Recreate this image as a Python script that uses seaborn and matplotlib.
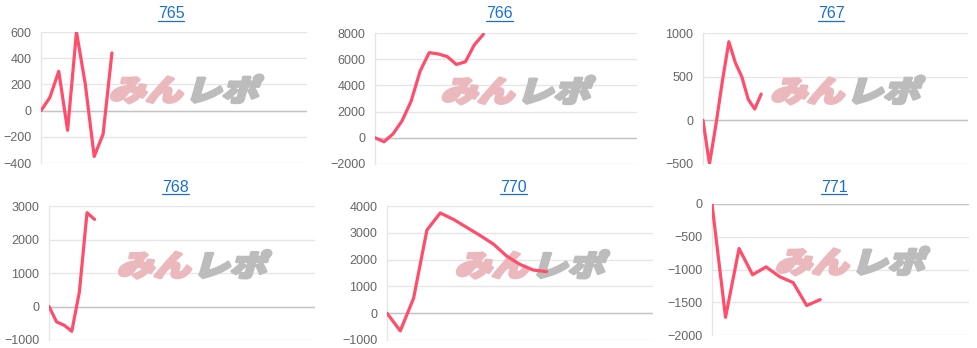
import numpy as np
import pandas as pd
import matplotlib
matplotlib.use("Agg")
import matplotlib.pyplot as plt
import seaborn as sns
from matplotlib.textpath import TextPath
from matplotlib.patches import PathPatch
from matplotlib.font_manager import FontProperties
from matplotlib.transforms import Affine2D, IdentityTransform

# ---------------- data ----------------
titles = ["765", "766", "767", "768", "770", "771"]
v765 = [0, 100, 300, -150, 600, 200, -350, -180, 440]
v766 = [0, -300, 300, 1300, 2800, 5100, 6500, 6400, 6200, 5600, 5800, 7100, 7900]
v767 = [0, -500, -50, 450, 900, 660, 500, 240, 130, 300]
v768 = [0, -460, -560, -740, 440, 2800, 2600]
v770 = [0, -660, 560, 3100, 3740, 3500, 3200, 2900, 2580, 2130, 1820, 1610, 1550]
v771 = [0, -1730, -680, -1080, -960, -1110, -1200, -1550, -1460]
series = [v765, v766, v767, v768, v770, v771]
n_categories = [31, 30, 42, 36, 21, 20]
y_ranges = [(-400, 600), (-2000, 8000), (-500, 1000), (-1000, 3000), (-1000, 4000), (-2000, 0)]
y_steps = [200, 2000, 500, 1000, 1000, 500]

# ---------------- layout (pixels) ----------------
W, H = 978, 348
axes_px = [  # left, top, right, bottom
    (41, 32, 307, 163),
    (375, 33, 637, 164),
    (703, 33, 968, 164),
    (49, 206, 315, 340),
    (387, 206, 653, 340),
    (712, 204, 969, 335),
]
title_px = [(171, 18.5), (499.5, 18.5), (831, 18.5), (175.7, 192), (513.7, 192), (834, 192)]

sns.set_style("white")
plt.rcParams["font.family"] = ["Liberation Sans", "DejaVu Sans"]

fig = plt.figure(figsize=(W / 100, H / 100), dpi=100)
LINE = "#ff4d6b"
TITLE_C = "#1a6fd6"

fp_logo = FontProperties(family="Noto Sans CJK JP", weight="heavy")
p_pink = TextPath((0, 0), "みん", size=1, prop=fp_logo)
p_gray = TextPath((0, 0), "レポ", size=1, prop=fp_logo)
pink_w = p_pink.get_extents().x1
gray_off = pink_w + 0.1


def add_logo(ax, l, t, r, b):
    cx = l + 0.545 * (r - l)
    cy = H - (t + 0.435 * (b - t))
    total_w = gray_off + p_gray.get_extents().x1
    e1, e2 = p_pink.get_extents(), p_gray.get_extents()
    y0, y1 = min(e1.y0, e2.y0), max(e1.y1, e2.y1)
    sx = 148 / total_w
    sy = 28 / (y1 - y0)
    hmid = (y0 + y1) / 2
    for path, col, dx in [(p_pink, "#ebb9bd", 0.0), (p_gray, "#bcbcbc", gray_off)]:
        tr = (Affine2D().translate(dx - total_w / 2, -hmid)
              .scale(sx, sy).skew_deg(16, 0).translate(cx, cy))
        pp = PathPatch(tr.transform_path(path), facecolor=col, edgecolor=col,
                       linewidth=2.2, joinstyle="round",
                       transform=IdentityTransform(), zorder=1.5, clip_on=False)
        ax.add_artist(pp)


for i, (name, vals) in enumerate(zip(titles, series)):
    l, t, r, b = axes_px[i]
    ax = fig.add_axes([l / W, 1 - b / H, (r - l) / W, (b - t) / H])
    df = pd.DataFrame({"x": np.arange(len(vals)), "y": vals})
    add_logo(ax, l, t, r, b)
    sns.lineplot(data=df, x="x", y="y", ax=ax, color=LINE, linewidth=2.3, zorder=3)
    lo, hi = y_ranges[i]
    ax.set_ylim(lo, hi)
    ax.set_xlim(0, n_categories[i] - 1)
    ax.set_yticks(np.arange(lo, hi + 1, y_steps[i]))
    ax.set_xticks([])
    ax.set_xlabel("")
    ax.set_ylabel("")
    ax.set_axisbelow(True)
    ax.yaxis.grid(True, color="#e6e6e6", linewidth=1)
    ax.axhline(0, color="#c4c4c4", linewidth=1, zorder=1)
    for sp in ["top", "right", "bottom"]:
        ax.spines[sp].set_visible(False)
    ax.spines["left"].set_color("#e6e6e6")
    ax.spines["left"].set_linewidth(1)
    ax.tick_params(axis="y", length=0, pad=7, labelsize=9, labelcolor="#666666")
    ax.set_facecolor("none")
    # title
    tx, ty = title_px[i]
    txt = fig.text(tx / W, 1 - ty / H, name, ha="center", va="baseline",
                   fontsize=11.5, color=TITLE_C)

fig.canvas.draw()
renderer = fig.canvas.get_renderer()
for txt, (tx, ty) in zip(fig.texts, title_px):
    bb = txt.get_window_extent(renderer)
    yline = (H - ty) - 2
    fig.add_artist(plt.Line2D([bb.x0 / W, bb.x1 / W], [yline / H, yline / H],
                              color=TITLE_C, linewidth=0.9, transform=fig.transFigure))

fig.savefig("out.png", dpi=100)
